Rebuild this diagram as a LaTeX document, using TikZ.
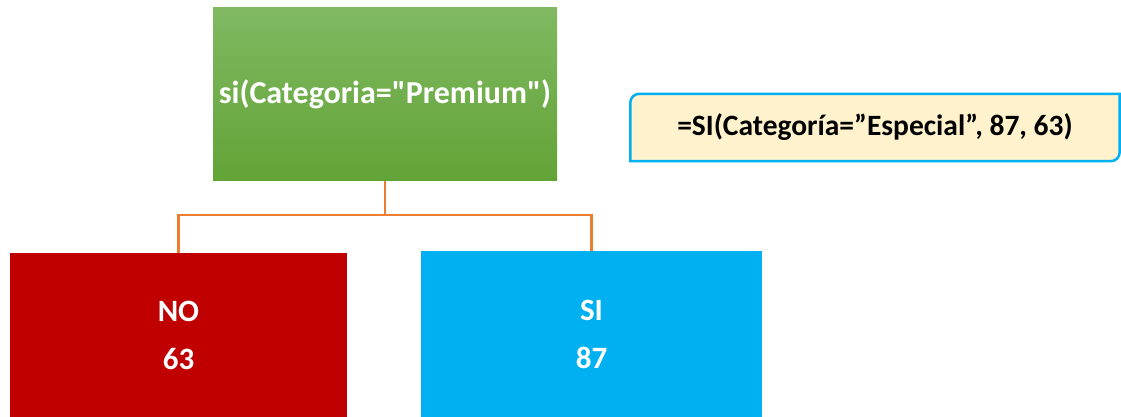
\documentclass[tikz,border=0pt]{standalone}
\usepackage{fontspec}
\setmainfont{Carlito}[Ligatures=TeXOff]
\usepackage{tikz}
\usepackage{xcolor}
\usetikzlibrary{positioning,backgrounds}

\definecolor{verdeclaro}{HTML}{80B961}
\definecolor{verdeoscuro}{HTML}{62A337}
\definecolor{rojo}{HTML}{C00000}
\definecolor{celeste}{HTML}{00B0F0}
\definecolor{crema}{HTML}{FFF2CC}
\definecolor{naranja}{HTML}{ED7D31}

\begin{document}
\begin{tikzpicture}[x=1pt,y=1pt,
  caja/.style={inner sep=0pt,text=white,align=center,font=\bfseries\fontsize{31}{48}\selectfont},
  rama/.style={naranja,line width=2.5pt}]
\useasboundingbox (0,0) rectangle (1121,417);
\node[caja,top color=verdeclaro,bottom color=verdeoscuro,minimum width=344pt,minimum height=173pt,font=\bfseries\fontsize{32}{38}\selectfont] (cond) at (385,322.5) {si(Categoria="Premium")};
\node[caja,fill=rojo,minimum width=337pt,minimum height=164pt] (no) at (178.5,82) {NO\\63};
\node[caja,fill=celeste,minimum width=341pt,minimum height=166pt] (si) at (591.5,83) {SI\\87};
\coordinate (cruce) at (385,202);
\draw[rama] (cond.south) -- (cruce) -| (no.north);
\draw[rama] (cruce) -| (si.north);
\node[minimum width=489pt,minimum height=67pt,inner sep=0pt,font=\bfseries\fontsize{29.5}{35}\selectfont] (formula) at (875,289.5) {=SI(Categoría=”Especial”, 87, 63)};
\begin{pgfonlayer}{background}
\filldraw[fill=crema,draw=celeste,line width=2.5pt] (formula.south west) -- ([yshift=-9pt]formula.north west) arc[start angle=180,end angle=90,radius=9pt] -- (formula.north east) -- ([yshift=9pt]formula.south east) arc[start angle=0,end angle=-90,radius=9pt] -- cycle;
\end{pgfonlayer}
\end{tikzpicture}
\end{document}
